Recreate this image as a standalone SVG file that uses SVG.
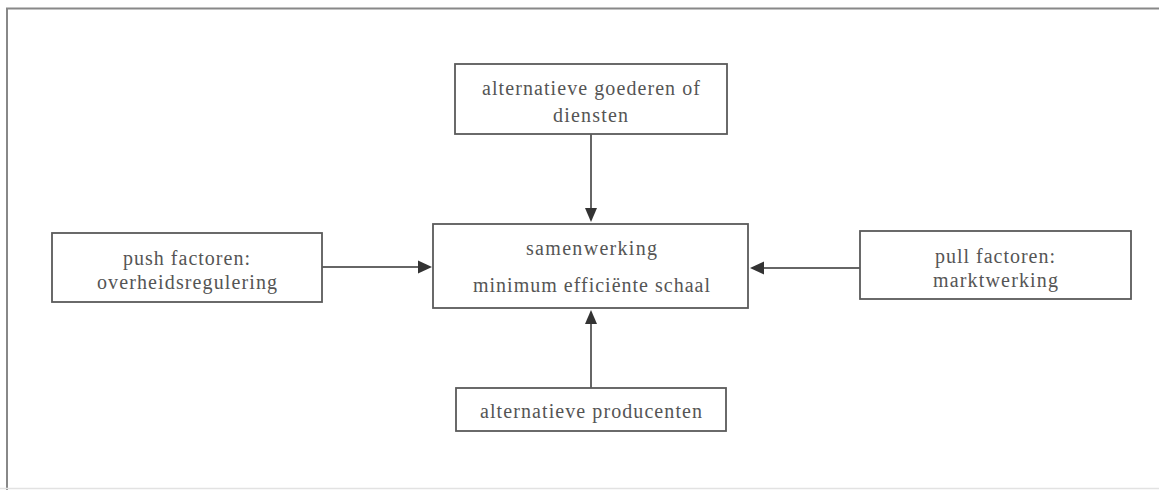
<svg xmlns="http://www.w3.org/2000/svg" width="1159" height="490" viewBox="0 0 1159 490">
<style>
.box{fill:#fff;stroke:#5a5a5a;stroke-width:1.8}
.t{font-family:"Liberation Serif","Times New Roman",serif;font-size:20px;fill:#555;text-anchor:middle}
.ln{stroke:#666;stroke-width:2;fill:none}
.ah{fill:#333}
</style>
<rect width="1159" height="490" fill="#fff"/>
<g id="frame">
<path d="M7 490 V8.5 H1159" fill="none" stroke="#888" stroke-width="2"/>
<line x1="0" y1="488.5" x2="1159" y2="488.5" stroke="#e2e2e2" stroke-width="1.5"/>
</g>
<g id="connectors">
<line class="ln" x1="591" y1="134" x2="591" y2="209"/>
<polygon class="ah" points="585,208 597,208 591,222"/>
<line class="ln" x1="591" y1="388" x2="591" y2="323"/>
<polygon class="ah" points="585,324 597,324 591,310"/>
<line class="ln" x1="322" y1="267" x2="420" y2="267"/>
<polygon class="ah" points="418,260.5 418,273.5 432,267"/>
<line class="ln" x1="860" y1="268" x2="763" y2="268"/>
<polygon class="ah" points="764,261.5 764,274.5 750,268"/>
</g>
<g id="node-top">
<rect class="box" x="455" y="64" width="272" height="70"/>
<text class="t" x="591" y="95" textLength="218" lengthAdjust="spacing">alternatieve goederen of</text>
<text class="t" x="590.5" y="122" textLength="75" lengthAdjust="spacing">diensten</text>
</g>
<g id="node-center">
<rect class="box" x="433" y="224" width="315" height="84"/>
<text class="t" x="591.5" y="255" textLength="131" lengthAdjust="spacing">samenwerking</text>
<text class="t" x="591.5" y="292" textLength="237" lengthAdjust="spacing">minimum efficiënte schaal</text>
</g>
<g id="node-left">
<rect class="box" x="52" y="233" width="270" height="69"/>
<text class="t" x="186.5" y="265" textLength="127" lengthAdjust="spacing">push factoren:</text>
<text class="t" x="187" y="289" textLength="180" lengthAdjust="spacing">overheidsregulering</text>
</g>
<g id="node-right">
<rect class="box" x="860" y="231" width="271" height="68"/>
<text class="t" x="995" y="263" textLength="120" lengthAdjust="spacing">pull factoren:</text>
<text class="t" x="995.5" y="287" textLength="125" lengthAdjust="spacing">marktwerking</text>
</g>
<g id="node-bottom">
<rect class="box" x="456" y="388" width="270" height="43"/>
<text class="t" x="591" y="418" textLength="222" lengthAdjust="spacing">alternatieve producenten</text>
</g>
</svg>
